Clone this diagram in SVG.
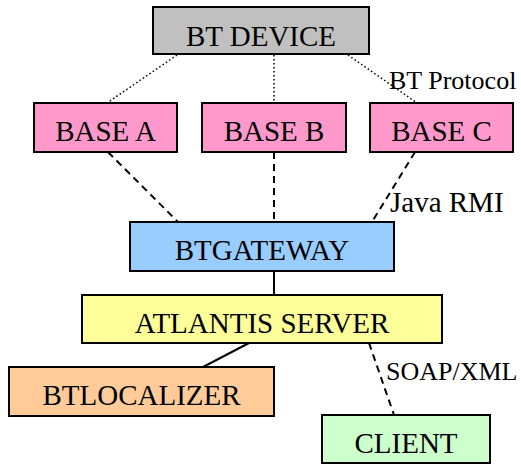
<svg xmlns="http://www.w3.org/2000/svg" width="521" height="464" viewBox="0 0 521 464">
  <style>
    .box { stroke: #000; stroke-width: 2; }
    .lbl { font-family: "Liberation Serif", "Times New Roman", serif; font-size: 29px; fill: #000; text-anchor: middle; }
    .elbl { font-family: "Liberation Serif", "Times New Roman", serif; font-size: 26px; fill: #000; }
    .dot { stroke: #000; stroke-width: 1.5; stroke-dasharray: 1.5 2.5; fill: none; }
    .dash { stroke: #000; stroke-width: 2; stroke-dasharray: 7 5; fill: none; }
    .solid { stroke: #000; stroke-width: 2; fill: none; }
  </style>
  <rect width="521" height="464" fill="#fff"/>

  <!-- connectors -->
  <g id="connectors">
    <line class="dot" x1="177" y1="55" x2="107" y2="103"/>
    <line class="dot" x1="274" y1="55" x2="274" y2="103"/>
    <line class="dot" x1="348" y1="55" x2="417" y2="103"/>
    <line class="dash" x1="108" y1="152" x2="178" y2="222"/>
    <line class="dash" x1="274" y1="152" x2="274" y2="222"/>
    <line class="dash" x1="415" y1="152" x2="372" y2="222"/>
    <line class="solid" x1="274" y1="271" x2="274" y2="295"/>
    <line class="solid" x1="249" y1="343" x2="203" y2="367"/>
    <line class="dash" x1="369" y1="343" x2="394" y2="415"/>
    <text class="elbl" x="389" y="89">BT Protocol</text>
    <text class="elbl" x="390" y="212" style="font-size:29px">Java RMI</text>
    <text class="elbl" x="386" y="380">SOAP/XML</text>
  </g>

  <g id="bt-device">
    <rect class="box" x="153" y="7" width="216" height="47" fill="#c0c0c0"/>
    <text class="lbl" x="261" y="46">BT DEVICE</text>
  </g>
  <g id="base-a">
    <rect class="box" x="34" y="103" width="143" height="49" fill="#ff99cc"/>
    <text class="lbl" x="105.5" y="141">BASE A</text>
  </g>
  <g id="base-b">
    <rect class="box" x="202" y="103" width="144" height="49" fill="#ff99cc"/>
    <text class="lbl" x="274" y="141">BASE B</text>
  </g>
  <g id="base-c">
    <rect class="box" x="370" y="103" width="143" height="49" fill="#ff99cc"/>
    <text class="lbl" x="441.5" y="141">BASE C</text>
  </g>
  <g id="btgateway">
    <rect class="box" x="130" y="222" width="264" height="49" fill="#99ccff"/>
    <text class="lbl" x="262" y="260">BTGATEWAY</text>
  </g>
  <g id="atlantis-server">
    <rect class="box" x="82" y="295" width="360" height="48" fill="#ffff99"/>
    <text class="lbl" x="262" y="333">ATLANTIS SERVER</text>
  </g>
  <g id="btlocalizer">
    <rect class="box" x="9" y="367" width="265" height="49" fill="#ffcc99"/>
    <text class="lbl" x="141.5" y="405">BTLOCALIZER</text>
  </g>
  <g id="client">
    <rect class="box" x="322" y="415" width="168" height="48" fill="#ccffcc"/>
    <text class="lbl" x="406" y="453">CLIENT</text>
  </g>
</svg>
